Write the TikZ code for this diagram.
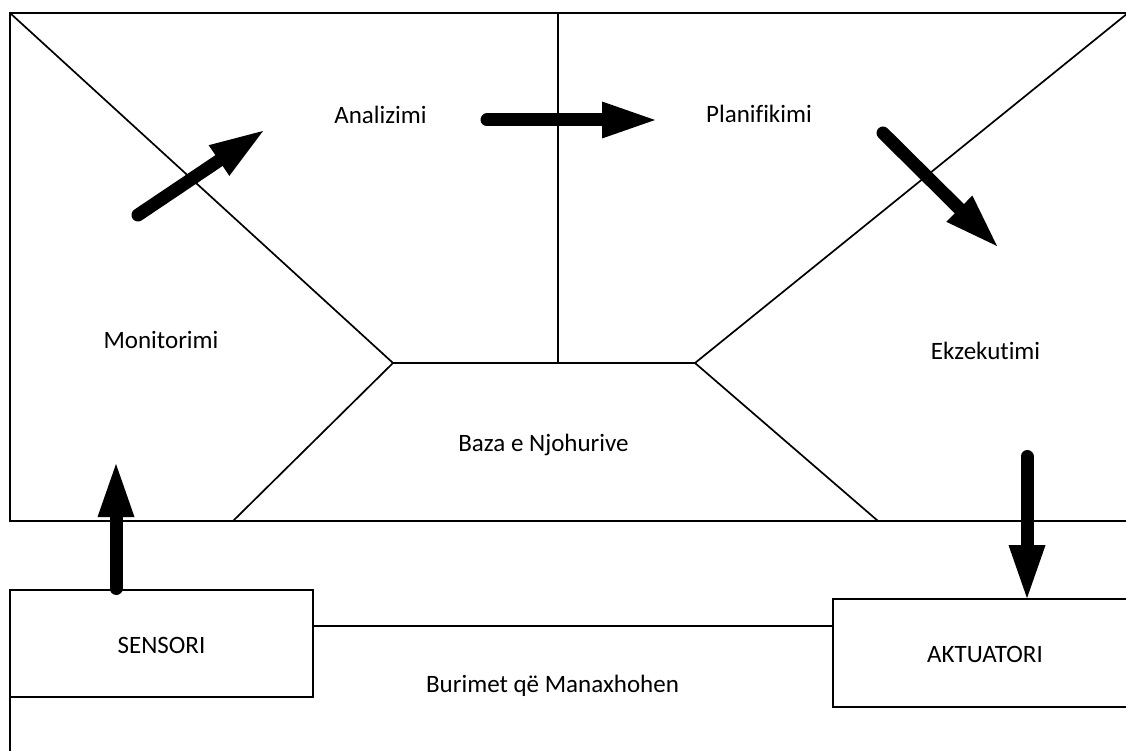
\documentclass[tikz,border=0pt]{standalone}
\usepackage{fontspec}
\setmainfont{Carlito}[Ligatures=NoCommon]
\usetikzlibrary{arrows.meta}
\begin{document}
\begin{tikzpicture}[x=1pt,y=-1pt,
  edge/.style={line width=1.7pt, line join=miter},
  flow/.style={line width=13pt, line cap=round,
    -{Triangle[length=53pt,width=37pt,line width=0pt]}},
  lbl/.style={font=\fontsize{25}{30}\selectfont, inner sep=0pt, anchor=base},
  unitbox/.style={draw, line width=1.7pt, fill=white, inner sep=0pt}]
\useasboundingbox (0,0) rectangle (1126,751);
\clip (0,0) rectangle (1126,751);

% managed resources (bottom region)
\draw[edge] (10,770) -- (10,626) -- (1150,626);

% MAPE-K frame
\coordinate (tl) at (10,13);
\coordinate (tr) at (1128,13);
\coordinate (tm) at (558,13);
\coordinate (kl) at (393,363);
\coordinate (km) at (558,363);
\coordinate (kr) at (695,363);
\coordinate (bl) at (233,521);
\coordinate (br) at (878,521);
\draw[edge] (10,13) rectangle (1128,521);
\draw[edge] (tl) -- (kl) -- (kr) -- (tr);
\draw[edge] (tm) -- (km);
\draw[edge] (kl) -- (bl);
\draw[edge] (kr) -- (br);

% phase labels
\node[lbl] (analizimi) at (380.5,124) {Analizimi};
\node[lbl] (planifikimi) at (759,123) {Planifikimi};
\node[lbl] (monitorimi) at (161,348) {Monitorimi};
\node[lbl] (ekzekutimi) at (985.5,359) {Ekzekutimi};
\node[lbl] (baza) at (543.5,451) {Baza e Njohurive};
\node[lbl] (burimet) at (552.5,692) {Burimet që Manaxhohen};

% sensor and actuator boxes
\node[unitbox, minimum width=303pt, minimum height=107pt] (sensori) at (161.5,643.5) {};
\node[lbl] at (161.5,653) {SENSORI};
\node[unitbox, minimum width=306pt, minimum height=108pt] (aktuatori) at (986,653) {};
\node[lbl] at (985,662) {AKTUATORI};

% control-loop arrows
\coordinate (m1) at (138,215);
\coordinate (a1) at (263,131);
\coordinate (a2) at (487,120);
\coordinate (p1) at (655,120);
\coordinate (p2) at (883,133);
\coordinate (e1) at (997,246);
\coordinate (e2) at (1027,456.5);
\coordinate (s1) at (116,588.5);
\coordinate (m2) at (116,464);
\draw[flow] (m1) -- (a1);
\draw[flow] (a2) -- (p1);
\draw[flow] (p2) -- (e1);
\draw[flow] (e2) -- (aktuatori.north -| e2);
\draw[flow] (s1) -- (m2);
\end{tikzpicture}
\end{document}
